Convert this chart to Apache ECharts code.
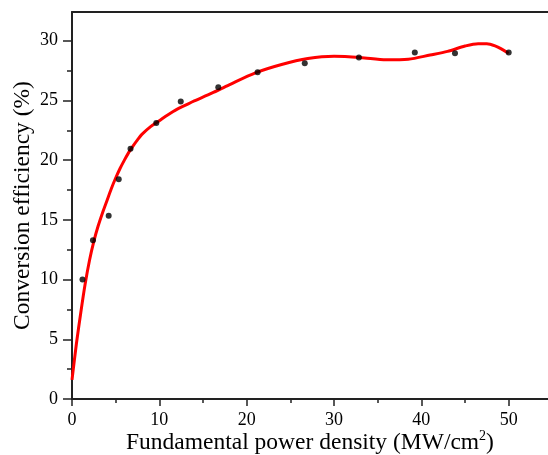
<!DOCTYPE html>
<html>
<head>
<meta charset="utf-8">
<script src="https://cdn.jsdelivr.net/npm/echarts@6/dist/echarts.min.js"></script>
<style>
  html, body { margin: 0; padding: 0; background: #fff; }
  #chart { width: 548px; height: 455px; }
</style>
</head>
<body>
<div id="chart"></div>
<script>
// measured points
const pointX = [1.2, 2.4, 4.2, 5.35, 6.7, 9.65, 12.45, 16.75, 21.25, 26.65, 32.85, 39.25, 43.85, 50.0]
const pointY = [10.0, 13.3, 15.35, 18.4, 20.95, 23.1, 24.9, 26.1, 27.35, 28.1, 28.6, 29.0, 28.95, 29.0]

// red fitted curve
const fitX = [0, 0.5, 1, 1.5, 2, 2.5, 3, 3.5, 4, 4.5, 5, 5.5, 6, 6.5, 7, 7.5, 8, 9, 10, 11, 12, 13, 14, 16, 18, 21, 24, 27, 30, 33, 36, 38.5, 41, 43, 45, 46.5, 47.5, 48.5, 49.3, 50]
const fitY = [1.6, 4.6, 7.2, 9.6, 11.6, 13.2, 14.5, 15.6, 16.6, 17.6, 18.5, 19.3, 20.0, 20.65, 21.2, 21.7, 22.15, 22.8, 23.3, 23.8, 24.25, 24.6, 24.95, 25.6, 26.3, 27.3, 28.0, 28.5, 28.7, 28.6, 28.4, 28.45, 28.8, 29.1, 29.55, 29.75, 29.75, 29.55, 29.25, 28.95]

// ticks
const xMajor = [0, 10, 20, 30, 40, 50]
const xMinor = [5, 15, 25, 35, 45]
const yMajor = [0, 5, 10, 15, 20, 25, 30]
const yMinor = [2.5, 7.5, 12.5, 17.5, 22.5, 27.5]

const font = 'Liberation Serif'
const axisColor = '#222'

let chart = echarts.init(document.getElementById('chart'), null, {renderer: 'canvas'})

let hidden = {show: false}
let option = {
  animation: false,
  grid: {left: 72, top: 12, right: 0, bottom: 56, outerBoundsMode: 'none', containLabel: false},
  xAxis: [
    {
      type: 'value',
      min: 0,
      max: 54.5,
      interval: 10,
      splitLine: hidden,
      axisLine: {lineStyle: {color: axisColor, width: 2}},
      axisTick: {length: 7, customValues: xMajor, lineStyle: {color: axisColor, width: 1.5}},
      axisLabel: {customValues: xMajor, margin: 12, fontFamily: font, fontSize: 18, color: '#000'},
      name: '{a|Fundamental power density (MW/cm}{s|2}{a|)}',
      nameLocation: 'middle',
      nameGap: 30,
      nameMoveOverlap: false,
      nameTextStyle: {
        rich: {
          a: {fontFamily: font, fontSize: 23.5, lineHeight: 27, color: '#000'},
          s: {fontFamily: font, fontSize: 14, lineHeight: 15, color: '#000', verticalAlign: 'top'}
        }
      }
    },
    { // minor ticks
      type: 'value', min: 0, max: 54.5, position: 'bottom',
      splitLine: hidden, axisLabel: hidden,
      axisLine: hidden,
      axisTick: {length: 4, customValues: xMinor, lineStyle: {color: axisColor, width: 1.5}}
    },
    { // top frame line
      type: 'value', min: 0, max: 54.5, position: 'top',
      splitLine: hidden, axisLabel: hidden, axisTick: hidden,
      axisLine: {lineStyle: {color: axisColor, width: 2}}
    }
  ],
  yAxis: [
    {
      type: 'value',
      min: 0,
      max: 32.4,
      interval: 5,
      splitLine: hidden,
      axisLine: {lineStyle: {color: axisColor, width: 2}},
      axisTick: {length: 9, customValues: yMajor, lineStyle: {color: axisColor, width: 1.5}},
      axisLabel: {customValues: yMajor, margin: 14, fontFamily: font, fontSize: 18, color: '#000'},
      name: 'Conversion efficiency (%)',
      nameLocation: 'middle',
      nameGap: 37,
      nameMoveOverlap: false,
      nameTextStyle: {fontFamily: font, fontSize: 23.5, color: '#000'}
    },
    {
      type: 'value', min: 0, max: 32.4, position: 'left',
      splitLine: hidden, axisLabel: hidden, axisLine: hidden,
      axisTick: {length: 5, customValues: yMinor, lineStyle: {color: axisColor, width: 1.5}}
    }
  ],
  series: [
    {
      type: 'line',
      data: fitX.map((x, i) => [x, fitY[i]]),
      smooth: 0.3,
      showSymbol: false,
      lineStyle: {color: '#ff0000', width: 3},
      z: 2
    },
    {
      type: 'scatter',
      data: pointX.map((x, i) => [x, pointY[i]]),
      symbolSize: 6,
      itemStyle: {color: '#000'},
      z: 3
    }
  ]
}
chart.setOption(option)
</script>
</body>
</html>
